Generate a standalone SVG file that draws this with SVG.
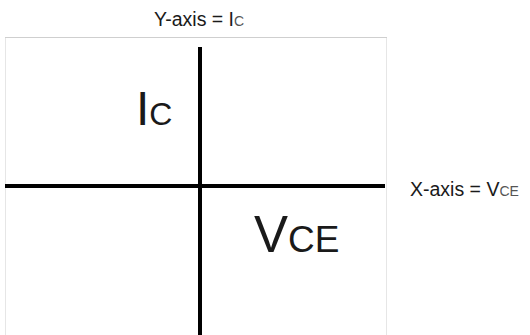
<svg xmlns="http://www.w3.org/2000/svg" width="530" height="335" viewBox="0 0 530 335">
<style>
text{font-family:"Liberation Sans",Arial,sans-serif;fill:#1a1a1a}
.sub{fill:#555}
.axis{stroke:#000;stroke-width:4;fill:none}
</style>
<rect width="530" height="335" fill="#fff"/>
<g id="frame">
<rect x="5.5" y="37.5" width="381" height="310" fill="#fff" stroke="#e6e6e6" stroke-width="1"/>
<line x1="5" y1="37.5" x2="387" y2="37.5" stroke="#cfcfcf" stroke-width="1"/>
</g>
<g id="connectors">
<line class="axis" x1="200" y1="47" x2="200" y2="335"/>
<line class="axis" x1="5" y1="186" x2="385" y2="186"/>
</g>
<g id="y-label"><text x="154" y="26" font-size="19.5">Y-axis = I<tspan class="sub" font-size="14">C</tspan></text></g>
<g id="x-label"><text x="410" y="196" font-size="19.5">X-axis = V<tspan class="sub" font-size="14">CE</tspan></text></g>
<g id="ic"><text x="136" y="125" font-size="48">I<tspan font-size="32">C</tspan></text></g>
<g id="vce"><text x="254" y="252" font-size="51">V<tspan font-size="37">CE</tspan></text></g>
</svg>
